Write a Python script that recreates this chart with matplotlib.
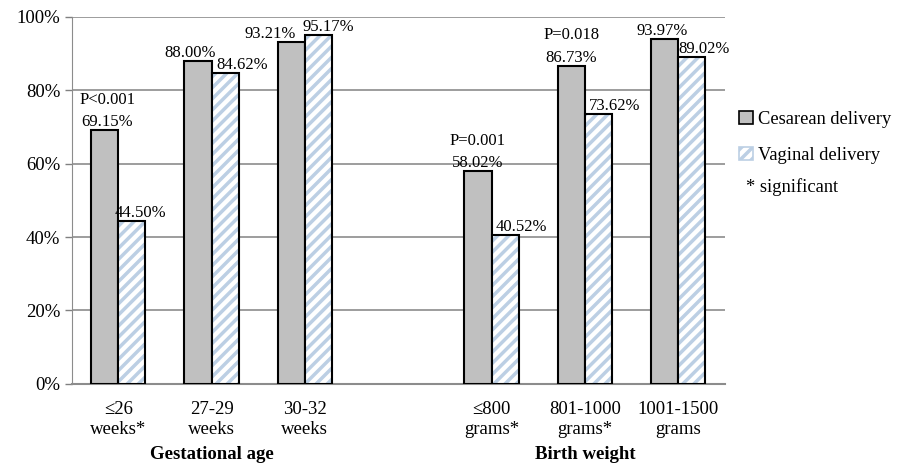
import numpy as np
import matplotlib.pyplot as plt
from matplotlib.patches import Patch

plt.rcParams['font.family'] = ['Liberation Serif', 'DejaVu Serif']
plt.rcParams['hatch.linewidth'] = 2.5

# survival by delivery mode; slot 3 is the empty gap between the two groups
slots = [0, 1, 2, 4, 5, 6]
tick_labels = ['\u226426\nweeks*', '27-29\nweeks', '30-32\nweeks',
               '\u2264800\ngrams*', '801-1000\ngrams*', '1001-1500\ngrams']
cesarean = [69.15, 88.00, 93.21, 58.02, 86.73, 93.97]
vaginal = [44.50, 84.62, 95.17, 40.52, 73.62, 89.02]
p_values = {0: 'P<0.001', 4: 'P=0.001', 5: 'P=0.018'}
groups = ['Gestational age', 'Birth weight']

# horizontal nudges (points) so neighbouring labels don't collide
ces_shift = [2, -6, -15, 0, 0, -2]
vag_shift = [6, 12, 7, 12, 12, 9]

gray = '#c0c0c0'
stripe = '#bccfe4'
w = 0.29

fig = plt.figure(figsize=(9.06, 4.71), dpi=100)
ax = fig.add_axes([0.079, 0.185, 0.721, 0.779])

x = np.array(slots, dtype=float)
ax.bar(x - w / 2, cesarean, w, color=gray, edgecolor='black', linewidth=1.5, zorder=3)
# hatched bars: stripes first, then a black outline on top
ax.bar(x + w / 2, vaginal, w, color='white', edgecolor=stripe, hatch='///',
       linewidth=0, zorder=3)
ax.bar(x + w / 2, vaginal, w, fill=False, edgecolor='black', linewidth=1.5, zorder=4)

for i, s in enumerate(slots):
    ax.annotate(f'{cesarean[i]:.2f}%', (s - w / 2, cesarean[i]),
                xytext=(ces_shift[i], 0), textcoords='offset points',
                ha='center', va='bottom', fontsize=12)
    ax.annotate(f'{vaginal[i]:.2f}%', (s + w / 2, vaginal[i]),
                xytext=(vag_shift[i], 0), textcoords='offset points',
                ha='center', va='bottom', fontsize=12)
    if s in p_values:
        ax.annotate(p_values[s], (s - w / 2, cesarean[i]),
                    xytext=(ces_shift[i], 16), textcoords='offset points',
                    ha='center', va='bottom', fontsize=12)

ax.set_xlim(-0.5, 6.5)
ax.set_ylim(0, 100)
ax.set_yticks(range(0, 101, 20))
ax.set_yticklabels([f'{v}%' for v in range(0, 101, 20)], fontsize=13.5)
ax.set_xticks(slots)
ax.set_xticklabels(tick_labels, fontsize=13.5, linespacing=1.3)
ax.tick_params(axis='x', length=0, pad=12)
ax.tick_params(axis='y', length=5, color='#808080', width=1, pad=3)
ax.yaxis.grid(True, color='#8c8c8c', linewidth=1.2, zorder=0)
ax.set_axisbelow(True)
for side in ['top', 'right']:
    ax.spines[side].set_visible(False)
ax.spines['left'].set_color('#8c8c8c')
ax.spines['bottom'].set_color('#8c8c8c')
ax.spines['bottom'].set_linewidth(1.5)

# group captions under the tick labels
for name, center in zip(groups, [1, 5]):
    ax.text(center, -16.8, name, ha='center', va='top',
            fontsize=13.5, fontweight='bold')

handles = [Patch(facecolor=gray, edgecolor='black', linewidth=1.2),
           Patch(facecolor='white', edgecolor=stripe, hatch='///', linewidth=1.2)]
fig.legend(handles, ['Cesarean delivery', 'Vaginal delivery'],
           loc='upper left', bbox_to_anchor=(0.797, 0.80), frameon=False,
           fontsize=13.3, handlelength=0.75, handleheight=0.75,
           handletextpad=0.3, labelspacing=1.0)
fig.text(0.823, 0.603, '* significant', fontsize=13.3, va='center')

fig.savefig('out.png', dpi=100)
